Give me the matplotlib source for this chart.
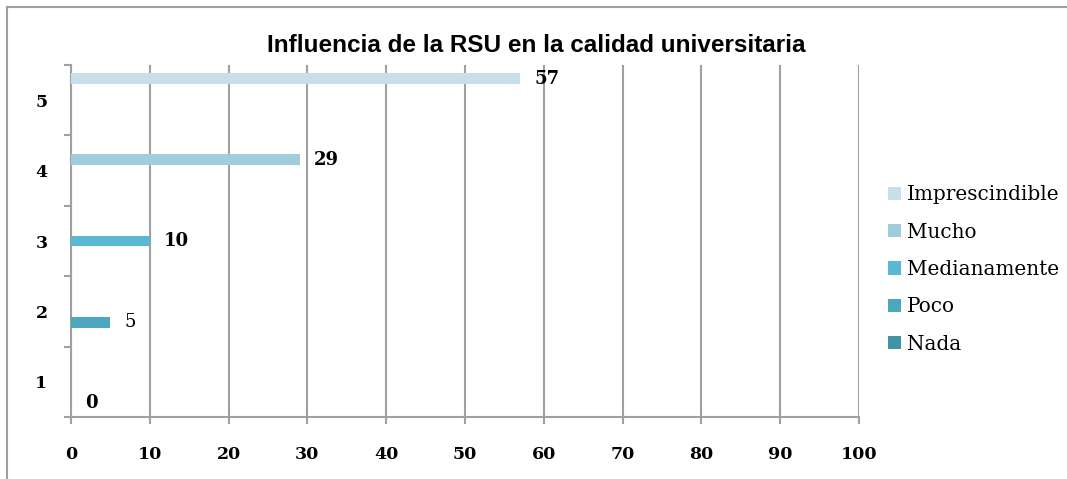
import numpy as np
import matplotlib.pyplot as plt
from matplotlib.lines import Line2D

# datos
categorias = ['1', '2', '3', '4', '5']
series = ['Nada', 'Poco', 'Medianamente', 'Mucho', 'Imprescindible']
valores = [0, 5, 10, 29, 57]   # cada serie solo tiene valor en su propia categoria
negrita = [True, False, True, True, True]
colores = ['#3F95A5', '#4BA6BE', '#5BB8D2', '#9FCDDC', '#C6DFE8']
xticks = [0, 10, 20, 30, 40, 50, 60, 70, 80, 90, 100]

gris = '#A0A0A0'
serif = 'DejaVu Serif'

fig = plt.figure(figsize=(10.67, 4.79), dpi=100)
ax = fig.add_axes([71/1067, 1-417/479, (859-71)/1067, (417-65)/479])

w = 1/6.5
for i, nombre in enumerate(series):
    y = i + 1 + (i - 2) * w
    bars = ax.barh([y], [valores[i]], height=w, color=colores[i], label=nombre, zorder=3)
    ax.bar_label(bars, padding=10, fontsize=13, family=serif,
                 fontweight='bold' if negrita[i] else 'normal')

ax.set_xlim(0, 100)
ax.set_ylim(0.5, 5.5)
ax.set_xticks(xticks)
ax.set_xticklabels([str(t) for t in xticks], family=serif, fontweight='bold', fontsize=12.5)
ax.set_yticks(np.arange(0.5, 6, 1))
ax.set_yticklabels([])
ax.set_yticks(range(1, 6), minor=True)
ax.set_yticklabels(categorias, minor=True, family=serif, fontweight='bold', fontsize=12.5)

ax.tick_params(axis='x', which='major', length=5, width=1.5, color=gris, pad=16)
ax.tick_params(axis='y', which='major', length=5, width=1.5, color=gris)
ax.tick_params(axis='y', which='minor', length=0, pad=17)

ax.grid(axis='x', color=gris, linewidth=1.5, zorder=0)
for s in ['top', 'right']:
    ax.spines[s].set_visible(False)
for s in ['left', 'bottom']:
    ax.spines[s].set_color(gris)
    ax.spines[s].set_linewidth(1.5)

fig.text(536/1067, 1-46/479, 'Influencia de la RSU en la calidad universitaria',
         family='Liberation Sans', fontweight='bold', fontsize=17.5,
         ha='center', va='center')

h, l = ax.get_legend_handles_labels()
fig.legend(h[::-1], l[::-1], loc='center left', bbox_to_anchor=(888/1067, 1-269.5/479),
           frameon=False, prop={'family': serif, 'size': 14.4},
           handlelength=0.65, handleheight=0.65, handletextpad=0.3,
           labelspacing=0.92, borderpad=0, borderaxespad=0)

# borde del area del grafico (solo arriba e izquierda se ven)
fig.add_artist(Line2D([7/1067, 1.0], [1-6.5/479, 1-6.5/479], transform=fig.transFigure,
                      color=gris, lw=1.5))
fig.add_artist(Line2D([7/1067, 7/1067], [0, 1-6.5/479], transform=fig.transFigure,
                      color=gris, lw=1.5))

fig.savefig('out.png', dpi=100)
